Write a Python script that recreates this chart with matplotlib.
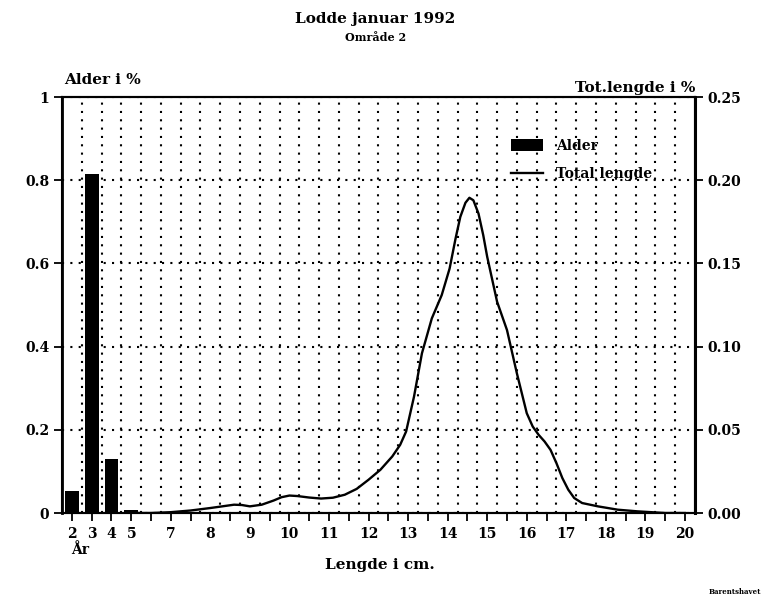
import matplotlib
matplotlib.use("Agg")
import matplotlib.pyplot as plt

# Alder (age) bars, placed on the length axis at half-cm steps
ages = ["2", "3", "4", "5"]
age_pos = [4.5, 5.0, 5.5, 6.0]
age_share = [0.053, 0.815, 0.13, 0.007]

# Total length distribution (fraction)
length_cm = [6.2, 6.5, 7.0, 7.5, 8.0, 8.3, 8.6, 8.8, 9.0, 9.3, 9.6, 9.8, 10.0,
             10.2, 10.5, 10.8, 11.1, 11.4, 11.7, 12.0, 12.3, 12.6, 12.8,
             12.95, 13.15, 13.35, 13.6, 13.85, 14.05, 14.2, 14.32, 14.45,
             14.55, 14.65, 14.78, 14.9, 15.0, 15.25, 15.5, 15.75, 16.0,
             16.15, 16.3, 16.45, 16.6, 16.75, 16.9, 17.05, 17.2, 17.4, 17.8,
             18.3, 18.8, 19.5, 20.0]
length_share = [0.0, 0.0, 0.0005, 0.0015, 0.003, 0.004, 0.005, 0.0048, 0.004,
                0.005, 0.0075, 0.0095, 0.0105, 0.0102, 0.0093, 0.0087,
                0.0092, 0.011, 0.0145, 0.020, 0.026, 0.034, 0.041, 0.049,
                0.070, 0.096, 0.117, 0.131, 0.147, 0.165, 0.178, 0.1865,
                0.1895, 0.188, 0.180, 0.167, 0.154, 0.127, 0.110, 0.084,
                0.060, 0.052, 0.047, 0.043, 0.038, 0.030, 0.021, 0.014,
                0.009, 0.006, 0.004, 0.002, 0.001, 0.0, 0.0]

# tick labels on the x axis
xtick_pos = [4.5 + 0.5 * i for i in range(32)]
xtick_lab = []
for p in xtick_pos:
    if p in age_pos:
        xtick_lab.append(ages[age_pos.index(p)])
    elif p >= 7 and p == int(p):
        xtick_lab.append(str(int(p)))
    else:
        xtick_lab.append("")
grid_x = [4.75 + 0.5 * i for i in range(31)]

left_ticks = [0, 0.2, 0.4, 0.6, 0.8, 1]
left_labels = ["0", "0.2", "0.4", "0.6", "0.8", "1"]
right_ticks = [0, 0.05, 0.10, 0.15, 0.20, 0.25]
right_labels = ["0.00", "0.05", "0.10", "0.15", "0.20", "0.25"]

plt.rcParams['font.family'] = ['DejaVu Serif']
plt.rcParams['font.weight'] = 'bold'

fig = plt.figure(figsize=(7.69, 6.01), dpi=100)
ax = fig.add_axes([0.0806, 0.1464, 0.823, 0.692])
ax2 = ax.twinx()

ax.bar(age_pos, age_share, width=0.35, color="black", label="Alder", zorder=3)
ax2.plot(length_cm, length_share, color="black", lw=1.7, label="Total lengde",
         solid_joinstyle="round")

ax.set_xlim(4.25, 20.25)
ax.set_ylim(0, 1)
ax2.set_ylim(0, 0.25)

ax.set_xticks(xtick_pos)
ax.set_xticklabels(xtick_lab, fontsize=10, fontweight="bold")
ax.set_xticks(grid_x, minor=True)
ax.tick_params(axis="x", which="minor", length=0)
ax.tick_params(axis="x", which="major", length=6, width=1.3, direction="out", pad=4)

ax.set_yticks(left_ticks)
ax.set_yticklabels(left_labels, fontsize=10, fontweight="bold")
ax.tick_params(axis="y", length=6, width=1.3, direction="out", pad=3)
ax2.set_yticks(right_ticks)
ax2.set_yticklabels(right_labels, fontsize=10, fontweight="bold")
ax2.tick_params(axis="y", length=6, width=1.3, direction="out", pad=3)

ax.set_axisbelow(True)
ax.grid(True, axis="x", which="minor", color="black", linestyle=(0, (1, 3)), lw=1.5)
ax.grid(True, axis="y", which="major", color="black", linestyle=(0, (1, 3)), lw=1.5)
ax.grid(False, axis="x", which="major")

for a in (ax, ax2):
    for s in a.spines.values():
        s.set_linewidth(1.5)
ax2.spines["right"].set_linewidth(2.2)
ax.spines["left"].set_linewidth(2.0)

h1, l1 = ax.get_legend_handles_labels()
h2, l2 = ax2.get_legend_handles_labels()
ax2.legend(h1 + h2, l1 + l2, loc="upper left", bbox_to_anchor=(0.69, 0.93),
           frameon=False, prop={"weight": "bold", "size": 10},
           handlelength=2.3, handleheight=1.0, labelspacing=1.05, handletextpad=0.9)

fig.text(0.488, 0.968, "Lodde januar 1992", ha="center", va="center",
         fontsize=11, fontweight="bold")
fig.text(0.488, 0.937, "Område 2", ha="center", va="center",
         fontsize=8, fontweight="bold")
fig.text(0.083, 0.867, "Alder i %", ha="left", va="center",
         fontsize=11, fontweight="bold")
fig.text(0.904, 0.853, "Tot.lengde i %", ha="right", va="center",
         fontsize=11, fontweight="bold")
fig.text(0.104, 0.085, "År", ha="center", va="center",
         fontsize=10, fontweight="bold")
fig.text(0.494, 0.06, "Lengde i cm.", ha="center", va="center",
         fontsize=11, fontweight="bold")
fig.text(0.99, 0.015, "Barentshavet", ha="right", va="center",
         fontsize=5, fontweight="bold")

fig.savefig("out.png", dpi=100)
